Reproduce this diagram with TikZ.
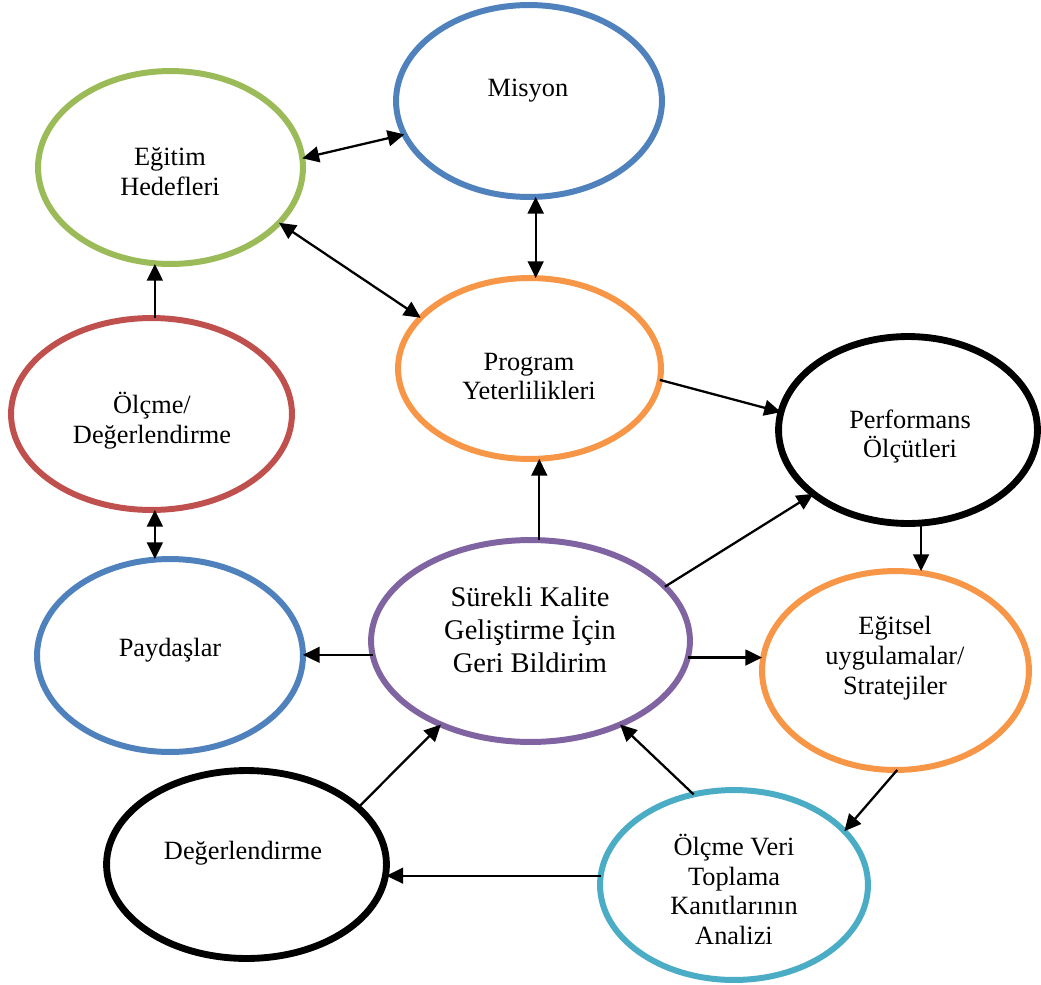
\documentclass[tikz,border=0pt]{standalone}
\usepackage{fontspec}
\setmainfont{Liberation Serif}
\usetikzlibrary{shapes.geometric,arrows.meta}

\definecolor{ofBlue}{HTML}{4F81BD}
\definecolor{ofGreen}{HTML}{9BBB59}
\definecolor{ofOrange}{HTML}{F79646}
\definecolor{ofRed}{HTML}{C0504D}
\definecolor{ofPurple}{HTML}{8064A2}
\definecolor{ofCyan}{HTML}{4BACC6}

\begin{document}
\begin{tikzpicture}[x=0.02cm,y=-0.02cm,
  oval/.style n args={3}{ellipse, draw=#1, line width=3.4pt,
    minimum width=#2*0.04cm, minimum height=#3*0.04cm,
    inner sep=0pt, outer sep=0pt},
  heavy/.style={line width=3.9pt},
  txt/.style={align=center, inner sep=0pt, font=\fontsize{15}{17}\selectfont},
  bigtxt/.style={align=center, inner sep=0pt, font=\fontsize{16.2}{18.7}\selectfont},
  tip/.style={Triangle[length=9.5pt,width=9pt]},
  arr/.style={line width=1.3pt, -{Triangle[length=9.5pt,width=9pt]}},
  darr/.style={line width=1.3pt, {Triangle[length=9.5pt,width=9pt]}-{Triangle[length=9.5pt,width=9pt]}}]

% canvas
\fill[white] (0,0) rectangle (1041,984);
\useasboundingbox (0,0) rectangle (1041,984);

% ellipses
\node[oval={ofBlue}{133}{96}]         (mis)  at (529,101)   {};
\node[oval={ofGreen}{132.5}{96.5}]    (egt)  at (170.5,167.5) {};
\node[oval={ofOrange}{131.5}{90.5}]   (prog) at (529.5,368.5) {};
\node[oval={ofRed}{140.5}{96}]        (olc)  at (151.5,414) {};
\node[oval={black}{129.5}{93.5},heavy] (perf) at (908,430)  {};
\node[oval={ofBlue}{133}{96.5}]       (payd) at (170,655.5) {};
\node[oval={ofPurple}{159.5}{101}]    (sur)  at (530.5,641) {};
\node[oval={ofOrange}{133.5}{99.5}]   (egts) at (895.5,670.5) {};
\node[oval={black}{140}{94},heavy]    (deg)  at (246.5,864.5) {};
\node[oval={ofCyan}{134}{95}]         (veri) at (734,885)   {};

% texts
\node[txt]    (mis-t)  at (528,90.5)  {Misyon};
\node[txt]    (egt-t)  at (170,172)   {Eğitim\\Hedefleri};
\node[txt]    (prog-t) at (529,376.5) {Program\\Yeterlilikleri};
\node[txt]    (olc-t)  at (152,421)   {Ölçme/\\Değerlendirme};
\node[txt]    (perf-t) at (910,436.5) {Performans\\Ölçütleri};
\node[txt]    (payd-t) at (170,650.5) {Paydaşlar};
\node[bigtxt] (sur-t)  at (530,630)   {Sürekli Kalite\\Geliştirme İçin\\Geri Bildirim};
\node[txt]    (egts-t) at (895,658)   {Eğitsel\\uygulamalar/\\Stratejiler};
\node[txt]    (deg-t)  at (243,853.5) {Değerlendirme};
\node[txt]    (veri-t) at (734,889.5) {Ölçme Veri\\Toplama\\Kanıtlarının\\Analizi};

% connectors
\draw[darr] (egt.4.5) -- (mis.195.7);
\draw[darr] (egt.-27.7) -- (prog.155.2);
\draw[darr] (mis.274.8) -- (mis.274.8 |- prog.north);
\draw[arr]  (olc.88) -- (olc.88 |- egt.south);
\draw[darr] (olc.272) -- (olc.272 |- payd.north);
\draw[arr]  (prog.-5) -- (perf.172.7);
\draw[arr]  (sur.85.8) -- (sur.85.8 |- prog.south);
\draw[arr]  (sur.22.9) -- (perf.214.8);
\draw[arr]  (perf.278.5) -- (perf.278.5 |- egts.north);
\draw[arr]  (sur.185.7) -- (sur.185.7 -| payd.east);
\draw[arr]  (sur.-6.1) -- (sur.-6.1 -| egts.west);
\draw[arr]  (egts.271.4) -- (veri.26.6);
\draw[arr]  (veri.114.8) -- (sur.-43.2);
\draw[arr]  (deg.27.1) -- (sur.223.9);
\draw[arr]  (veri.176.6) -- (veri.176.6 -| deg.east);
\end{tikzpicture}
\end{document}
